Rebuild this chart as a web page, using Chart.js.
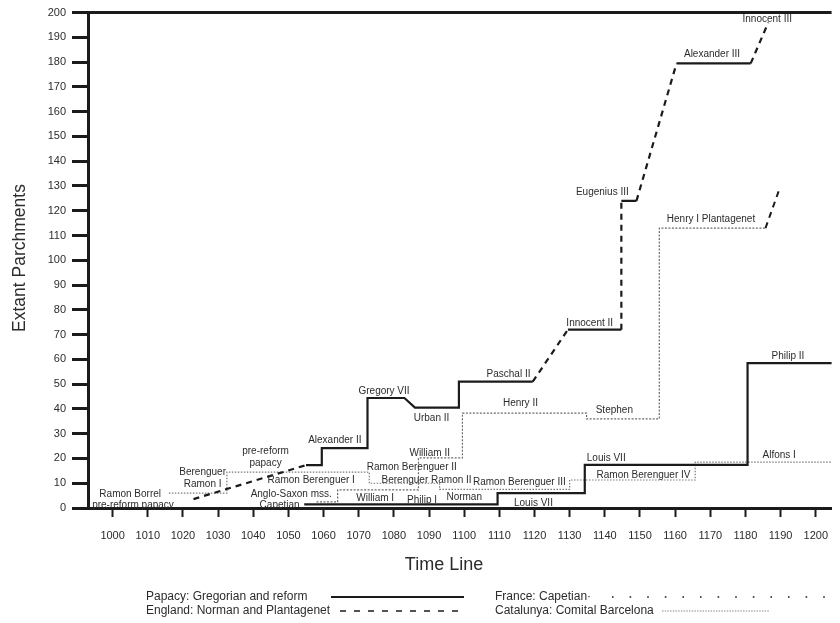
<!DOCTYPE html>
<html>
<head>
<meta charset="utf-8">
<script src="https://cdn.jsdelivr.net/npm/chart.js@4.4.0/dist/chart.umd.min.js"></script>
<style>
  html, body { margin: 0; padding: 0; background: #fff; overflow: hidden; }
  #wrap { width: 840px; height: 623px; position: relative; }
</style>
</head>
<body>
<div id="wrap"><canvas id="chart"></canvas></div>
<script>
// tick labels
const yearTicks = [1000, 1010, 1020, 1030, 1040, 1050, 1060, 1070, 1080, 1090, 1100,
                   1110, 1120, 1130, 1140, 1150, 1160, 1170, 1180, 1190, 1200];
const countTicks = [0, 10, 20, 30, 40, 50, 60, 70, 80, 90, 100,
                    110, 120, 130, 140, 150, 160, 170, 180, 190, 200];

// Papacy: Gregorian and reform
const papacyYears  = [1023, 1055, 1059.5, 1059.5, 1072.5, 1072.5, 1083, 1086, 1098.5, 1098.5,
                      1119.5, 1129.5, 1144.7, 1144.7, 1149, 1160.4, 1181.5, 1186.5];
const papacyCounts = [3.6, 17.3, 17.3, 24.2, 24.2, 44.4, 44.4, 40.5, 40.5, 51,
                      51, 72, 72, 124, 124, 179.5, 179.5, 196];

// England: Norman and Plantagenet
const englandYears  = [1058, 1064, 1064, 1087, 1087, 1099.5, 1099.5, 1134.8, 1134.8,
                       1155.5, 1155.5, 1185.7, 1189.6];
const englandCounts = [2.5, 2.5, 7.3, 7.3, 20.2, 20.2, 38.3, 38.3, 36,
                       36, 113, 113, 128.5];

// France: Capetian
const franceYears  = [1054.5, 1109.5, 1109.5, 1134.3, 1134.3, 1180.6, 1180.6, 1205];
const franceCounts = [1.5, 1.5, 6, 6, 17.4, 17.4, 58.5, 58.5];

// Catalunya: Comital Barcelona
const catalunyaYears  = [1016, 1032.5, 1032.5, 1073, 1073, 1093, 1093, 1130, 1130, 1165.7, 1165.7, 1205];
const catalunyaCounts = [6, 6, 14.5, 14.5, 10, 10, 7.5, 7.5, 11.3, 11.3, 18.5, 18.5];

// ruler names written on the chart: [text, year, count]
const rulerLabels = [
  ['Ramon Borrel', 1005, 5.6],
  ['pre-reform papacy', 1005.8, 1.2],
  ['Berenguer\nRamon I', 1025.6, 12.1],
  ['pre-reform\npapacy', 1043.5, 20.5],
  ['Ramon Berenguer I', 1056.5, 11.3],
  ['Anglo-Saxon mss.', 1050.8, 5.6],
  ['Capetian', 1047.5, 1.2],
  ['Alexander II', 1063.2, 27.4],
  ['Gregory VII', 1077.2, 47.2],
  ['Urban II', 1090.7, 36.3],
  ['Paschal II', 1112.6, 54],
  ['Innocent II', 1135.7, 74.6],
  ['Eugenius III', 1139.3, 127.4],
  ['Alexander III', 1170.5, 183],
  ['Innocent III', 1186.2, 197.2],
  ['Henry I Plantagenet', 1170.2, 116.5],
  ['Henry II', 1116, 42.3],
  ['Stephen', 1142.7, 39.5],
  ['William II', 1090.2, 22.2],
  ['Ramon Berenguer II', 1085.1, 16.5],
  ['Berenguer Ramon II', 1089.3, 11.3],
  ['William I', 1074.7, 4],
  ['Philip I', 1088, 3.2],
  ['Norman', 1100, 4.4],
  ['Ramon Berenguer III', 1115.7, 10.5],
  ['Louis VII', 1119.7, 2],
  ['Louis VII', 1140.4, 20.2],
  ['Ramon Berenguer IV', 1151, 13.3],
  ['Philip II', 1192.1, 61.3],
  ['Alfons I', 1189.6, 21.4]
];

const INK = '#1b1b1b';
const TEXT = '#2c2c2c';
const SANS = '"Liberation Sans", Arial, Helvetica, sans-serif';

function toPoints(xs, ys) {
  return xs.map((x, i) => ({ x: x, y: ys[i] }));
}

// segments drawn as estimates (dashed)
const papacyDashed = [0, 10, 12, 14, 16];
const englandDashed = [11];

const labelPlugin = {
  id: 'labels',
  afterDatasetsDraw(chart) {
    const { ctx, scales } = chart;
    ctx.save();
    ctx.fillStyle = TEXT;
    ctx.font = '10px ' + SANS;
    ctx.textAlign = 'center';
    ctx.textBaseline = 'middle';
    rulerLabels.forEach(([text, yr, n]) => {
      const px = scales.x.getPixelForValue(yr);
      const py = scales.y.getPixelForValue(n);
      const lines = text.split('\n');
      lines.forEach((ln, i) => {
        ctx.fillText(ln, px, py + (i - (lines.length - 1) / 2) * 12);
      });
    });
    ctx.restore();
  },
  afterDraw(chart) {
    const { ctx } = chart;
    ctx.save();
    ctx.fillStyle = TEXT;
    // axis titles
    ctx.font = '18px ' + SANS;
    ctx.textAlign = 'center';
    ctx.textBaseline = 'middle';
    ctx.fillText('Time Line', 444, 565);
    ctx.save();
    ctx.translate(20, 258);
    ctx.rotate(-Math.PI / 2);
    ctx.font = '17.5px ' + SANS;
    ctx.fillText('Extant Parchments', 0, 0);
    ctx.restore();

    // legend
    ctx.font = '12px ' + SANS;
    ctx.textAlign = 'left';
    const rows = [
      ['Papacy: Gregorian and reform', 146, 597, 331, 464, [], 1.8, INK],
      ['England: Norman and Plantagenet', 146, 611, 340, 464, [6, 8], 1.6, INK],
      ['France: Capetian\u00b7', 495, 597, 612, 838, [1.6, 16], 1.6, INK],
      ['Catalunya: Comital Barcelona', 495, 611, 662, 770, [1.5, 1.2], 1, '#888']
    ];
    rows.forEach(([t, tx, ty, x0, x1, dash, w, col]) => {
      ctx.fillStyle = TEXT;
      ctx.fillText(t, tx, ty);
      ctx.beginPath();
      ctx.setLineDash(dash);
      ctx.lineWidth = w;
      ctx.strokeStyle = col;
      ctx.moveTo(x0, ty);
      ctx.lineTo(x1, ty);
      ctx.stroke();
    });
    ctx.restore();
  }
};

new Chart(document.getElementById('chart'), {
  type: 'scatter',
  data: {
    datasets: [
      {
        label: 'Papacy: Gregorian and reform',
        data: toPoints(papacyYears, papacyCounts),
        showLine: true, pointRadius: 0,
        borderColor: INK, borderWidth: 2.2,
        segment: { borderDash: c => papacyDashed.includes(c.p0DataIndex) ? [6, 5] : undefined }
      },
      {
        label: 'England: Norman and Plantagenet',
        data: toPoints(englandYears, englandCounts),
        showLine: true, pointRadius: 0,
        borderColor: '#6a6a6a', borderWidth: 1.2, borderDash: [2, 1.5],
        segment: {
          borderDash: c => englandDashed.includes(c.p0DataIndex) ? [6, 5] : undefined,
          borderColor: c => englandDashed.includes(c.p0DataIndex) ? INK : undefined,
          borderWidth: c => englandDashed.includes(c.p0DataIndex) ? 2 : undefined
        }
      },
      {
        label: 'France: Capetian',
        data: toPoints(franceYears, franceCounts),
        showLine: true, pointRadius: 0,
        borderColor: INK, borderWidth: 2.2
      },
      {
        label: 'Catalunya: Comital Barcelona',
        data: toPoints(catalunyaYears, catalunyaCounts),
        showLine: true, pointRadius: 0,
        borderColor: '#7a7a7a', borderWidth: 1.2, borderDash: [1.5, 1.5]
      }
    ]
  },
  options: {
    responsive: true,
    maintainAspectRatio: false,
    animation: false,
    layout: { padding: { top: 12, right: 0, bottom: 0, left: 0 } },
    plugins: {
      legend: { display: false },
      tooltip: { enabled: false }
    },
    scales: {
      x: {
        type: 'linear',
        min: 993,
        max: 1204.5,
        afterBuildTicks: s => { s.ticks = yearTicks.map(v => ({ value: v })); },
        afterFit: s => { s.height = 115; },
        border: { display: true, color: INK, width: 3 },
        grid: { drawOnChartArea: false, drawTicks: true, tickLength: 9, tickColor: INK, tickWidth: 2 },
        ticks: {
          color: TEXT, padding: 12, maxRotation: 0, autoSkip: false,
          font: { family: SANS, size: 11 },
          callback: v => String(v)
        }
      },
      y: {
        min: 0,
        max: 200,
        afterBuildTicks: s => { s.ticks = countTicks.map(v => ({ value: v })); },
        afterFit: s => { s.width = 88; },
        border: { display: true, color: INK, width: 3 },
        grid: {
          drawOnChartArea: true,
          color: c => (c.tick && c.tick.value === 200) ? INK : 'rgba(0,0,0,0)',
          lineWidth: c => (c.tick && c.tick.value === 200) ? 3 : 1,
          tickLength: 16, tickColor: INK, tickWidth: 3
        },
        ticks: {
          color: TEXT, padding: 6,
          font: { family: SANS, size: 11 },
          callback: v => String(v)
        }
      }
    }
  },
  plugins: [labelPlugin]
});
</script>
</body>
</html>
